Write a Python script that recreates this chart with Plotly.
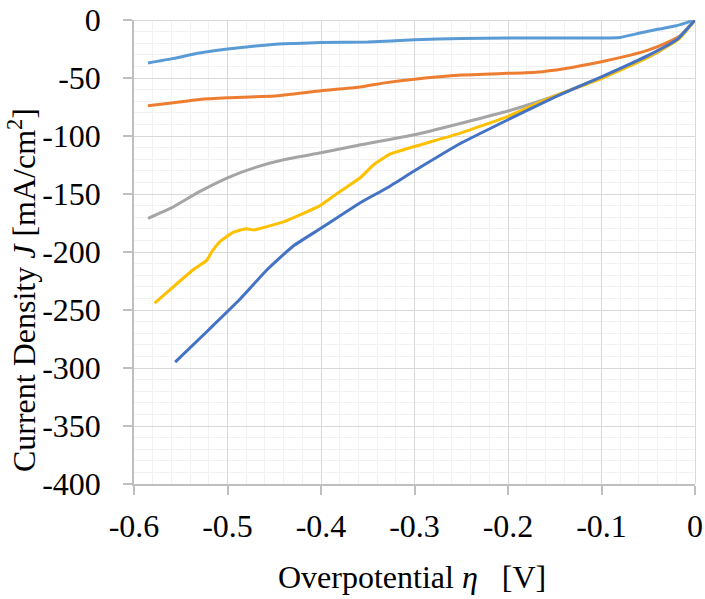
import plotly.graph_objects as go

# ---- data ----
x_ltblue = [-0.585, -0.56, -0.53, -0.5, -0.47, -0.44, -0.4, -0.35, -0.3, -0.25, -0.2, -0.15, -0.1, -0.08, -0.06, -0.04, -0.02, 0.0]
y_ltblue = [-37, -33.5, -28.5, -25, -22.5, -20.5, -19.5, -19, -17, -16, -15.5, -15.5, -15.5, -15, -11.5, -8, -5, 0]

x_orange = [-0.585, -0.56, -0.53, -0.5, -0.45, -0.4, -0.36, -0.33, -0.3, -0.25, -0.2, -0.17, -0.14, -0.1, -0.07, -0.05, -0.03, -0.015, 0.0]
y_orange = [-74, -71.5, -68.5, -67, -65.5, -61, -58, -54, -51, -47.5, -46, -45, -42, -36, -30.5, -26, -19.5, -13, 0]

x_gray = [-0.585, -0.56, -0.53, -0.5, -0.47, -0.44, -0.4, -0.36, -0.3, -0.25, -0.2, -0.15, -0.1, -0.07, -0.04, -0.02, 0.0]
y_gray = [-171, -162, -148, -136, -127, -120.5, -114.5, -108, -99, -89, -78.5, -65.5, -49.5, -39.5, -28, -17, 0]

x_yellow = [-0.578, -0.558, -0.537, -0.522, -0.517, -0.508, -0.494, -0.48, -0.472, -0.462, -0.44, -0.4225, -0.401, -0.38, -0.358, -0.344, -0.326, -0.3, -0.251, -0.2, -0.15, -0.1, -0.05, -0.018, 0.0]
y_yellow = [-244, -230, -215.5, -207, -200, -191, -183, -180, -181, -179, -174, -168, -160, -148, -136, -125, -115.5, -109, -97.5, -83, -65.5, -50.5, -32, -17, 0]

x_blue = [-0.556, -0.52, -0.487, -0.458, -0.43, -0.401, -0.358, -0.33, -0.3, -0.251, -0.2, -0.15, -0.1, -0.05, -0.018, 0.0]
y_blue = [-295, -267, -241, -215.5, -195, -180, -157.5, -145, -130, -106.5, -86, -66.5, -49, -30.5, -16, 0]

x_ticks = [-0.6, -0.5, -0.4, -0.3, -0.2, -0.1, 0.0]
x_tick_text = ["-0.6", "-0.5", "-0.4", "-0.3", "-0.2", "-0.1", "0"]
y_ticks = [0, -50, -100, -150, -200, -250, -300, -350, -400]
y_tick_text = ["0", "-50", "-100", "-150", "-200", "-250", "-300", "-350", "-400"]

x_title = "Overpotential <i>η</i>\u00a0\u00a0\u00a0[V]"
y_title = "Current Density <i>J</i> [mA/cm<sup>2</sup>]"

series = [
    (x_ltblue, y_ltblue, "#5B9BD5"),
    (x_orange, y_orange, "#ED7D31"),
    (x_gray, y_gray, "#A5A5A5"),
    (x_yellow, y_yellow, "#FFC000"),
    (x_blue, y_blue, "#4472C4"),
]

fig = go.Figure()
for xs, ys, c in series:
    fig.add_trace(go.Scatter(x=xs, y=ys, mode="lines",
                             line=dict(color=c, width=3, shape="spline", smoothing=0.4),
                             showlegend=False, hoverinfo="skip"))

FF = "Liberation Serif"
fig.update_layout(
    width=705, height=599,
    margin=dict(l=134, r=10, t=20, b=115),
    paper_bgcolor="white", plot_bgcolor="white",
    font=dict(family=FF, size=32, color="black"),
    showlegend=False,
    annotations=[
        dict(text=x_title, xref="paper", yref="paper", x=0.4964, y=-0.2004,
             xanchor="center", yanchor="middle", showarrow=False,
             font=dict(family=FF, size=32, color="black")),
        dict(text=y_title, xref="paper", yref="paper", x=-0.1996, y=0.418,
             xanchor="center", yanchor="middle", showarrow=False, textangle=-90,
             font=dict(family=FF, size=32, color="black")),
    ],
)
common = dict(
    showgrid=True, gridcolor="#d9d9d9", gridwidth=1,
    zeroline=True, zerolinecolor="#d9d9d9", zerolinewidth=1,
    showline=True, linecolor="#bfbfbf", linewidth=1.5,
    ticks="outside", ticklen=9, tickcolor="#bfbfbf", tickwidth=1.5,
    tickfont=dict(size=32, family=FF, color="black"),
    automargin=False,
)
fig.update_xaxes(
    range=[-0.6, 0], tickvals=x_ticks, ticktext=x_tick_text,
    minor=dict(dtick=0.02, tick0=0, showgrid=True, gridcolor="#f2f2f2", gridwidth=1),
    ticklabelstandoff=4,
    **common,
)
fig.update_yaxes(
    range=[-400, 0], tickvals=y_ticks, ticktext=y_tick_text,
    minor=dict(dtick=10, tick0=0, showgrid=True, gridcolor="#f2f2f2", gridwidth=1),
    ticklabelstandoff=16,
    **common,
)

fig.write_html("out.html")
